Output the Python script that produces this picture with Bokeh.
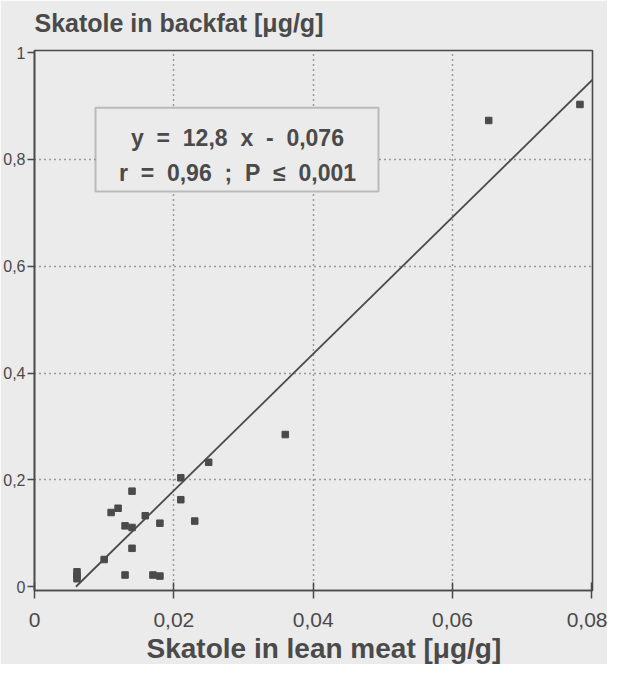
from bokeh.plotting import figure
from bokeh.models import FixedTicker, BoxAnnotation, Label, ColumnDataSource, Title
from bokeh.embed import file_html
from bokeh.resources import INLINE

# ---- data ----
lean_meat = [0.0061, 0.0061, 0.0061, 0.0100, 0.0110, 0.0120, 0.0140, 0.0130,
             0.0140, 0.0159, 0.0180, 0.0140, 0.0130, 0.0170, 0.0180, 0.0210,
             0.0210, 0.0230, 0.0250, 0.0360, 0.0652, 0.0783]
backfat = [0.015, 0.021, 0.028, 0.051, 0.139, 0.147, 0.179, 0.114,
           0.111, 0.133, 0.119, 0.072, 0.022, 0.022, 0.020, 0.204,
           0.163, 0.123, 0.233, 0.285, 0.873, 0.903]

slope = 12.8
intercept = -0.076
x_ticks = [0, 0.02, 0.04, 0.06, 0.08]
x_tick_labels = ["0", "0,02", "0,04", "0,06", "0,08"]
y_ticks = [0, 0.2, 0.4, 0.6, 0.8, 1.0]
y_tick_labels = ["0", "0,2", "0,4", "0,6", "0,8", "1"]
SP = "\u00a0\u00a0"   # wide gap (SVG collapses ordinary repeated spaces)
eq_text = SP.join(["y", "=", "12,8", "x", "-", "0,076"])
r_text = SP.join(["r", "=", "0,96", ";", "P", "\u2264", "0,001"])
x_title = "Skatole in lean meat [\u03bcg/g]"
y_title = "Skatole in backfat [\u03bcg/g]"

BG = "#ebebeb"
INK = "#4a4a4a"
FONT = "Liberation Sans"

p = figure(frame_width=558, frame_height=540, output_backend="svg",
           toolbar_location=None, title=None,
           x_range=(0, 0.0801), y_range=(-0.007, 1.004),
           min_border_left=31, min_border_right=15, min_border_top=50,
           min_border_bottom=10)

p.background_fill_color = BG
p.border_fill_color = BG
p.outline_line_color = INK
p.outline_line_width = 1.6

# spacer (background-coloured, nearest the frame) and the title above it
p.add_layout(Title(text=".", text_font=FONT, text_font_size="10px",
                   text_color=BG, standoff=4), "above")
p.add_layout(Title(text=y_title, text_font=FONT, text_font_size="25px",
                   text_font_style="bold", text_color=INK, align="left",
                   standoff=0), "above")

# grid
p.xgrid.ticker = FixedTicker(ticks=[0.02, 0.04, 0.06])
p.ygrid.ticker = FixedTicker(ticks=[0.2, 0.4, 0.6, 0.8])
for g in (p.xgrid, p.ygrid):
    g.grid_line_color = INK
    g.grid_line_dash = "1 4"
    g.grid_line_width = 1.5

# x axis
xa = p.xaxis[0]
xa.ticker = FixedTicker(ticks=x_ticks)
xa.major_label_overrides = {t: l for t, l in zip(x_ticks, x_tick_labels)}
xa.major_label_text_font = FONT
xa.major_label_text_font_size = "21px"
xa.major_label_text_color = INK
xa.major_label_standoff = 14
xa.major_tick_in = 8
xa.major_tick_out = 8
xa.minor_tick_line_color = None
xa.axis_line_color = INK
xa.axis_line_width = 1.6
xa.major_tick_line_color = INK
xa.major_tick_line_width = 1.5

# x axis title, below the tick labels
p.add_layout(Title(text=x_title, text_font=FONT, text_font_size="28px",
                   text_font_style="bold", text_color=INK, align="left",
                   offset=112, standoff=2), "below")

# y axis
ya = p.yaxis[0]
ya.ticker = FixedTicker(ticks=y_ticks)
ya.major_label_overrides = {t: l for t, l in zip(y_ticks, y_tick_labels)}
ya.major_label_text_font = FONT
ya.major_label_text_font_size = "16px"
ya.major_label_text_color = INK
ya.major_label_standoff = 2
ya.major_tick_in = 0
ya.major_tick_out = 7
ya.minor_tick_line_color = None
ya.axis_line_color = INK
ya.axis_line_width = 1.6
ya.major_tick_line_color = INK
ya.major_tick_line_width = 1.5

# regression line
x0 = -intercept / slope
fit_x = [x0, 0.0801]
fit_y = [slope * v + intercept for v in fit_x]
p.line(fit_x, fit_y, line_color=INK, line_width=1.8)

# points
src = ColumnDataSource(dict(x=lean_meat, y=backfat))
p.scatter("x", "y", source=src, marker="square", size=6.5,
          fill_color=INK, line_color=INK)

# equation box
p.add_layout(BoxAnnotation(left=0.00876, right=0.04938, top=0.897, bottom=0.740,
                           fill_color=BG, fill_alpha=1.0,
                           line_color=INK, line_width=2))
p.add_layout(Label(x=0.02914, y=0.841, text=eq_text, text_font=FONT,
                   text_font_size="23px", text_font_style="bold", text_color=INK,
                   text_align="center", text_baseline="middle"))
p.add_layout(Label(x=0.02914, y=0.775, text=r_text, text_font=FONT,
                   text_font_size="23px", text_font_style="bold", text_color=INK,
                   text_align="center", text_baseline="middle"))

open("out.html", "w").write(file_html(p, INLINE))
